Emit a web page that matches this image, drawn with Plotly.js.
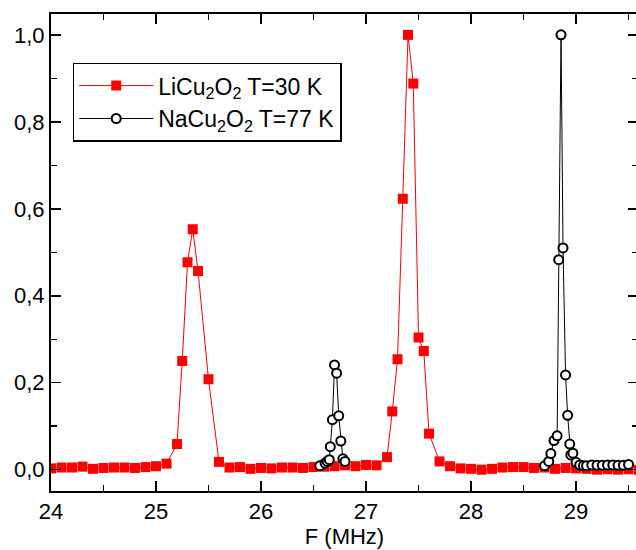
<!DOCTYPE html>
<html>
<head>
<meta charset="utf-8">
<script src="https://cdn.plot.ly/plotly-3.0.1.min.js"></script>
<style>
html,body{margin:0;padding:0;background:#fff;overflow:hidden;width:636px;height:550px;}
#chart{width:640px;height:550px;}
</style>
</head>
<body>
<div id="chart"></div>
<script>
// LiCu2O2, T=30 K
var li_x = [24.0,24.1,24.2,24.3,24.4,24.5,24.6,24.7,24.8,24.9,25.0,25.1,25.2,25.25,25.3,25.35,25.4,25.5,25.6,25.7,25.8,25.9,26.0,26.1,26.2,26.3,26.4,26.5,26.6,26.7,26.8,26.9,27.0,27.1,27.2,27.25,27.3,27.35,27.4,27.45,27.5,27.55,27.6,27.7,27.8,27.9,28.0,28.1,28.2,28.3,28.4,28.5,28.6,28.7,28.8,28.9,29.0,29.1,29.2,29.3,29.4,29.5,29.6];
var li_y = [0.003,0.005,0.005,0.007,0.002,0.004,0.005,0.005,0.004,0.006,0.008,0.014,0.059,0.250,0.477,0.553,0.457,0.208,0.018,0.005,0.006,0.002,0.004,0.003,0.005,0.005,0.004,0.006,0.007,0.008,0.010,0.008,0.011,0.010,0.029,0.134,0.254,0.623,1.000,0.888,0.304,0.273,0.083,0.019,0.008,0.003,0.002,0.000,0.002,0.005,0.006,0.006,0.004,0.005,0.002,0.004,0.003,0.002,0.000,0.001,0.000,0.001,0.000];
// NaCu2O2, T=77 K (null separates the two measured windows)
var na_x = [26.56,26.61,26.63,26.65,26.66,26.68,26.70,26.72,26.74,26.76,26.78,26.80,null,28.70,28.74,28.76,28.79,28.82,28.835,28.857,28.876,28.90,28.92,28.94,28.95,28.97,29.00,29.035,29.07,29.10,29.15,29.20,29.25,29.30,29.35,29.40,29.45,29.50];
var na_y = [0.009,0.015,0.019,0.023,0.053,0.115,0.241,0.222,0.124,0.066,0.025,0.019,null,0.009,0.019,0.037,0.067,0.078,0.483,1.000,0.510,0.218,0.125,0.059,0.034,0.038,0.017,0.011,0.009,0.009,0.011,0.010,0.010,0.011,0.011,0.010,0.010,0.012];
var li_name = 'LiCu<sub>2</sub>O<sub>2</sub> T=30 K';
var na_name = 'NaCu<sub>2</sub>O<sub>2</sub> T=77 K';

var traces = [
  {x: li_x, y: li_y, name: li_name, type: 'scatter', mode: 'lines+markers',
   line: {color: '#ff0000', width: 1},
   marker: {symbol: 'square', size: 10, color: '#ff0000', line: {width: 0}}},
  {x: na_x, y: na_y, name: na_name, type: 'scatter', mode: 'lines+markers',
   connectgaps: false,
   line: {color: '#000000', width: 1},
   marker: {symbol: 'circle', size: 9, color: '#ffffff', line: {color: '#000000', width: 2}}}
];

var fnt = {family: 'Liberation Sans, Arial, sans-serif', size: 22, color: '#000'};
var lfnt = {family: 'Liberation Sans, Arial, sans-serif', size: 23, color: '#000'};
var layout = {
  width: 640, height: 550,
  margin: {l: 51, r: 2, t: 14, b: 59},
  paper_bgcolor: '#fff', plot_bgcolor: '#fff',
  separators: ',.',
  font: fnt,
  showlegend: true,
  legend: {x: 0.037, y: 0.898, xanchor: 'left', yanchor: 'top',
           bordercolor: '#000', borderwidth: 1.5, bgcolor: '#fff',
           font: lfnt, itemwidth: 74, tracegroupgap: 0},
  xaxis: {range: [24, 29.59], showgrid: false, zeroline: false,
          showline: true, linecolor: '#000', linewidth: 2, mirror: 'ticks',
          ticks: 'inside', ticklen: 10, tickwidth: 1.5, tickcolor: '#000',
          dtick: 1, tick0: 24, tickformat: 'd',
          minor: {dtick: 0.5, ticks: 'inside', ticklen: 6, tickwidth: 1.5, tickcolor: '#000'},
          tickfont: fnt,
          title: {text: 'F (MHz)', font: fnt, standoff: 4}},
  yaxis: {range: [-0.049, 1.048], showgrid: false, zeroline: false,
          showline: true, linecolor: '#000', linewidth: 2, mirror: 'ticks',
          ticks: 'inside', ticklen: 10, tickwidth: 1.5, tickcolor: '#000',
          dtick: 0.2, tick0: 0, tickformat: '.1f',
          minor: {dtick: 0.1, ticks: 'inside', ticklen: 6, tickwidth: 1.5, tickcolor: '#000'},
          tickfont: fnt}
};
Plotly.newPlot('chart', traces, layout, {displayModeBar: false, staticPlot: true});
</script>
</body>
</html>
